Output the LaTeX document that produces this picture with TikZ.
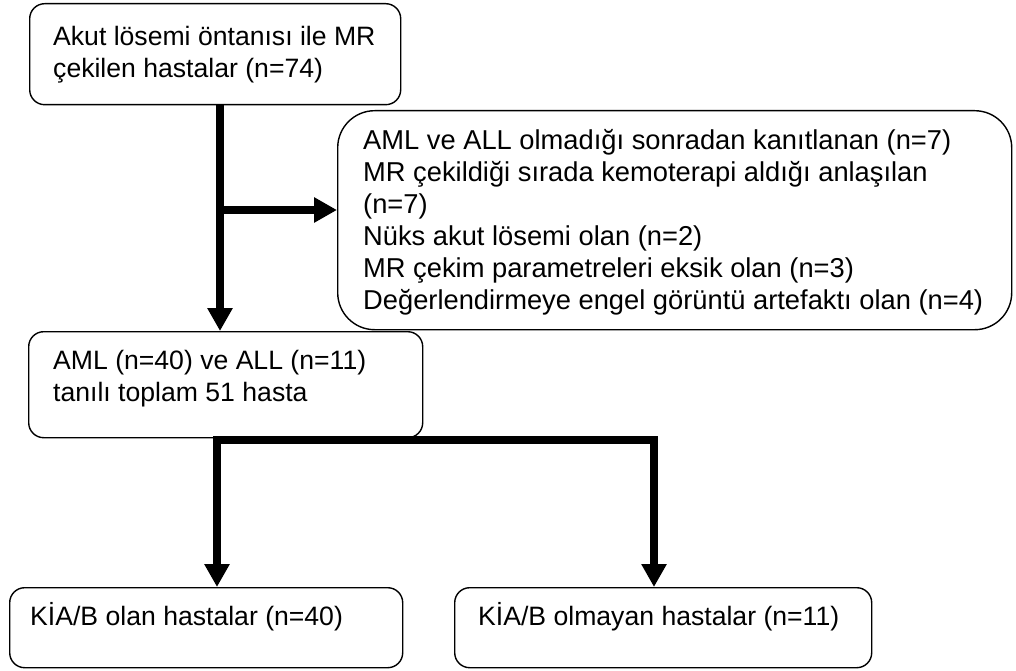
\documentclass[tikz,border=0pt]{standalone}
\usepackage{fontspec}
\setmainfont{Liberation Sans}
\usetikzlibrary{arrows.meta,calc}
\begin{document}
\begin{tikzpicture}[x=1pt,y=-1pt,
  box/.style={draw, line width=1.4pt, rounded corners=15pt, anchor=north west, inner sep=0pt},
  txt/.style={anchor=north west, inner sep=0pt, align=left, font=\fontsize{26.6}{32}\selectfont},
  arr/.style={line width=7.5pt, -{Triangle[width=24pt,length=23pt]}},
]
\useasboundingbox (0,0) rectangle (1016,671);
% boxes
\node[box, minimum width=371pt, minimum height=101pt] (top) at (29,3) {};
\node[box, rounded corners=37pt, minimum width=674pt, minimum height=219pt] (excl) at (337,110) {};
\node[box, minimum width=394pt, minimum height=106pt] (mid) at (28,331) {};
\node[box, minimum width=393pt, minimum height=80pt] (bl) at (9,587) {};
\node[box, minimum width=417pt, minimum height=80pt] (br) at (454,587) {};
% texts
\node[txt] (toptxt) at (53,22.6) {\strut Akut lösemi öntanısı ile MR\\çekilen hastalar (n=74)};
\node[txt, font=\fontsize{27.3}{32}\selectfont] (excltxt) at (363,126.6) {\strut AML ve ALL olmadığı sonradan kanıtlanan (n=7)\\MR çekildiği sırada kemoterapi aldığı anlaşılan\\(n=7)\\Nüks akut lösemi olan (n=2)\\MR çekim parametreleri eksik olan (n=3)\\Değerlendirmeye engel görüntü artefaktı olan (n=4)};
\node[txt] (midtxt) at (53,346.6) {\strut AML (n=40) ve ALL (n=11)\\tanılı toplam 51 hasta};
\node[txt] (bltxt) at (30,602.6) {\strut KİA/B olan hastalar (n=40)};
\node[txt] (brtxt) at (478,602.6) {\strut KİA/B olmayan hastalar (n=11)};
% connectors
\coordinate (j1) at (220,210);
\coordinate (sl) at (217,440);
\coordinate (sr) at (654,440);
\draw[arr] (top.south -| j1) -- (j1 |- mid.north);
\draw[arr] (j1) -- (j1 -| excl.west);
\draw[line width=8pt, line cap=rect] (sl) -- (sr);
\draw[arr, line width=8pt] (sl) -- (sl |- bl.north);
\draw[arr, line width=8pt] (sr) -- (sr |- br.north);
\end{tikzpicture}
\end{document}
